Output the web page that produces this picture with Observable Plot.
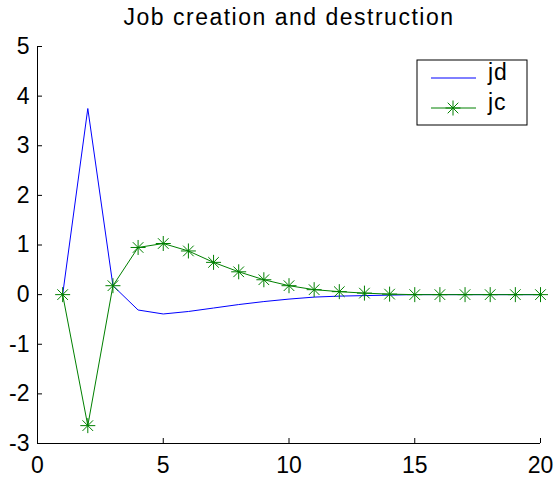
<!DOCTYPE html>
<html>
<head>
<meta charset="utf-8">
<script src="https://cdn.jsdelivr.net/npm/d3@7"></script>
<script src="https://cdn.jsdelivr.net/npm/@observablehq/plot@0.6"></script>
<style>
  html, body { margin: 0; padding: 0; background: #fff; }
  #chart { width: 558px; height: 482px; }
</style>
</head>
<body>
<div id="chart"></div>
<script>
const titleText = "Job creation and destruction";
const periods = [1,2,3,4,5,6,7,8,9,10,11,12,13,14,15,16,17,18,19,20];
const jd = [0, 3.75, 0.18, -0.31, -0.39, -0.34, -0.27, -0.2, -0.14, -0.09, -0.05, -0.03, -0.02, -0.01, 0, 0, 0, 0, 0, 0];
const jc = [0, -2.64, 0.18, 0.95, 1.03, 0.88, 0.65, 0.46, 0.30, 0.18, 0.10, 0.06, 0.03, 0.01, 0, 0, 0, 0, 0, 0];
const xTicks = [0, 5, 10, 15, 20];
const yTicks = [-3, -2, -1, 0, 1, 2, 3, 4, 5];
const seriesNames = ["jd", "jc"];
const seriesColors = ["#0000ff", "#008000"];

const jdData = periods.map((t, i) => ({t, v: jd[i]}));
const jcData = periods.map((t, i) => ({t, v: jc[i]}));

const starSymbol = {
  draw(context, size) {
    const r = Math.sqrt(size / Math.PI);
    const d = r * 0.7071;
    context.moveTo(-r, 0); context.lineTo(r, 0);
    context.moveTo(0, -r); context.lineTo(0, r);
    context.moveTo(-d, -d); context.lineTo(d, d);
    context.moveTo(-d, d); context.lineTo(d, -d);
  }
};

const font = "'Liberation Sans', Arial, Helvetica, sans-serif";
const fmt = d => String(d);

const chart = Plot.plot({
  width: 558,
  height: 482,
  marginLeft: 37,
  marginRight: 18,
  marginTop: 46,
  marginBottom: 39,
  style: {fontFamily: font, fontSize: "23px", color: "#000", background: "#fff", overflow: "visible"},
  x: {domain: [0, 20]},
  y: {domain: [-3, 5]},
  marks: [
    Plot.axisX({ticks: xTicks, tickFormat: fmt, tickSize: -5, tickPadding: 18, label: null, fontSize: 23, stroke: "#000"}),
    Plot.axisY({ticks: yTicks, tickFormat: fmt, tickSize: -5, tickPadding: 13, label: null, fontSize: 23, stroke: "#000"}),
    Plot.ruleX([0], {stroke: "#000", strokeWidth: 1}),
    Plot.ruleY([-3], {stroke: "#000", strokeWidth: 1}),
    Plot.line(jdData, {x: "t", y: "v", stroke: seriesColors[0], strokeWidth: 1}),
    Plot.line(jcData, {x: "t", y: "v", stroke: seriesColors[1], strokeWidth: 1}),
    Plot.dot(jcData, {x: "t", y: "v", symbol: starSymbol, r: 7.5, fill: "none", stroke: seriesColors[1], strokeWidth: 1}),
    Plot.text([titleText], {frameAnchor: "top", dy: -22, lineAnchor: "bottom", fontSize: 23, fill: "#000", text: d => d})
  ]
});

document.getElementById("chart").appendChild(chart);

const svg = d3.select(chart);
// widen title spacing to match the reference rendering
svg.selectAll("text").filter(function() { return this.textContent === titleText; })
  .style("letter-spacing", "1.5px");

// Legend inside the axes (MATLAB style)
const lg = svg.append("g").attr("font-family", font).attr("font-size", 23).attr("text-anchor", "start");
lg.append("rect").attr("x", 417).attr("y", 60).attr("width", 110).attr("height", 65)
  .attr("fill", "#fff").attr("stroke", "#000").attr("stroke-width", 1);
const rowsY = [78, 108];
seriesNames.forEach((name, i) => {
  const y = rowsY[i];
  lg.append("line").attr("x1", 431).attr("x2", 476).attr("y1", y).attr("y2", y)
    .attr("stroke", seriesColors[i]).attr("stroke-width", 1);
  if (i === 1) {
    const r = 7.5, d = r * 0.7071, cx = 453;
    lg.append("path")
      .attr("d", `M${cx-r},${y}L${cx+r},${y}M${cx},${y-r}L${cx},${y+r}M${cx-d},${y-d}L${cx+d},${y+d}M${cx-d},${y+d}L${cx+d},${y-d}`)
      .attr("stroke", seriesColors[i]).attr("fill", "none").attr("stroke-width", 1);
  }
  lg.append("text").attr("x", 488).attr("y", y + 2).attr("text-anchor", "start").style("letter-spacing", "1px")
    .attr("fill", "#000").text(name);
});
</script>
</body>
</html>
